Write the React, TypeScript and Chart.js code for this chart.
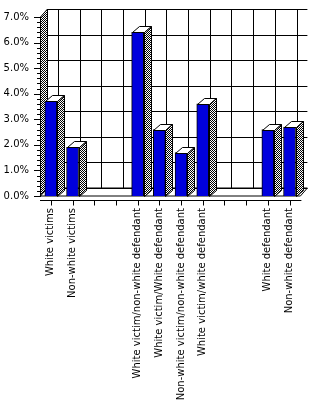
import React, { useEffect, useRef } from "react";
import { Chart, registerables } from "chart.js";

Chart.register(...registerables);

const categories: string[] = [
  "White victims",
  "Non-white victims",
  "",
  "",
  "White victim/non-white defendant",
  "White victim/White defendant",
  "Non-white victim/non-white defendant",
  "White victim/white defendant",
  "",
  "",
  "White defendant",
  "Non-white defendant",
];

const values: (number | null)[] = [3.7, 1.9, null, null, 6.4, 2.6, 1.7, 3.6, null, null, 2.6, 2.7];

const yTicks: number[] = [0, 1, 2, 3, 4, 5, 6, 7];

const FONT = "'DejaVu Sans', sans-serif";
const DX = 7;
const DY = 8;
const BDX = 7;
const BDY = 6;

function makeChecker(ctx: CanvasRenderingContext2D): CanvasPattern | string {
  const c = document.createElement("canvas");
  c.width = 2;
  c.height = 2;
  const g = c.getContext("2d");
  if (!g) return "#888";
  g.fillStyle = "#ffffff";
  g.fillRect(0, 0, 2, 2);
  g.fillStyle = "#000000";
  g.fillRect(0, 0, 1, 1);
  g.fillRect(1, 1, 1, 1);
  return ctx.createPattern(c, "repeat") || "#888";
}

const threeD = {
  id: "threeD",
  beforeDatasetsDraw(chart: any) {
    const ctx: CanvasRenderingContext2D = chart.ctx;
    const { left, right, top, bottom } = chart.chartArea;
    const xs = chart.scales.x;
    const ys = chart.scales.y;
    const pat = makeChecker(ctx);
    ctx.save();
    ctx.lineWidth = 1;
    ctx.strokeStyle = "#000";
    // floor
    ctx.fillStyle = "#fff";
    ctx.beginPath();
    ctx.moveTo(left, bottom);
    ctx.lineTo(left + DX, bottom - DY);
    ctx.lineTo(right + DX, bottom - DY);
    ctx.lineTo(right, bottom);
    ctx.closePath();
    ctx.fill();
    ctx.stroke();
    // back wall horizontal grid
    yTicks.forEach((v) => {
      const y = Math.round(ys.getPixelForValue(v) - DY) + 0.5;
      ctx.beginPath();
      ctx.moveTo(left + DX, y);
      ctx.lineTo(right + DX, y);
      ctx.stroke();
    });
    // back wall vertical grid
    const yTop = Math.round(ys.getPixelForValue(yTicks[yTicks.length - 1]) - DY) + 0.5;
    const yBot = Math.round(ys.getPixelForValue(0) - DY) + 0.5;
    categories.forEach((_, i) => {
      const x = Math.round(xs.getPixelForValue(i) + DX) + 0.5;
      ctx.beginPath();
      ctx.moveTo(x, yTop);
      ctx.lineTo(x, yBot);
      ctx.stroke();
    });
    // left back wall border
    ctx.beginPath();
    ctx.moveTo(left + DX + 0.5, yTop);
    ctx.lineTo(left + DX + 0.5, yBot);
    ctx.stroke();
    // left wall
    ctx.fillStyle = pat as any;
    ctx.beginPath();
    ctx.moveTo(left + 0.5, bottom);
    ctx.lineTo(left + 0.5, top);
    ctx.lineTo(left + DX + 0.5, top - DY);
    ctx.lineTo(left + DX + 0.5, bottom - DY);
    ctx.closePath();
    ctx.fill();
    ctx.stroke();
    // minor y ticks
    for (let v = 0; v <= 7.0001; v += 0.2) {
      const y = Math.round(ys.getPixelForValue(v)) + 0.5;
      const major = Math.abs(v - Math.round(v)) < 0.01;
      ctx.beginPath();
      ctx.moveTo(left - (major ? 6 : 3), y);
      ctx.lineTo(left, y);
      ctx.stroke();
    }
    // y axis line
    ctx.beginPath();
    ctx.moveTo(left + 0.5, top);
    ctx.lineTo(left + 0.5, bottom + 1);
    ctx.stroke();
    // x axis line with ticks
    const ax = Math.round(bottom + 4) + 0.5;
    ctx.beginPath();
    ctx.moveTo(left, ax);
    ctx.lineTo(right + 1, ax);
    ctx.stroke();
    categories.forEach((_, i) => {
      const x = Math.round(xs.getPixelForValue(i)) + 0.5;
      ctx.beginPath();
      ctx.moveTo(x, ax);
      ctx.lineTo(x, ax + 5);
      ctx.stroke();
    });
    ctx.restore();
  },
  afterDatasetsDraw(chart: any) {
    const ctx: CanvasRenderingContext2D = chart.ctx;
    const pat = makeChecker(ctx);
    const meta = chart.getDatasetMeta(0);
    ctx.save();
    ctx.lineWidth = 1;
    ctx.strokeStyle = "#000";
    meta.data.forEach((bar: any, i: number) => {
      if (values[i] == null) return;
      const { x, y, base, width } = bar.getProps(["x", "y", "base", "width"], true);
      const l = Math.round(x - width / 2) + 0.5;
      const r = Math.round(x + width / 2) + 0.5;
      const t = Math.round(y) + 0.5;
      const b = Math.round(base) + 0.5;
      // top face
      ctx.fillStyle = "#fff";
      ctx.beginPath();
      ctx.moveTo(l, t);
      ctx.lineTo(l + BDX, t - BDY);
      ctx.lineTo(r + BDX, t - BDY);
      ctx.lineTo(r, t);
      ctx.closePath();
      ctx.fill();
      ctx.stroke();
      // side face
      ctx.fillStyle = pat as any;
      ctx.beginPath();
      ctx.moveTo(r, t);
      ctx.lineTo(r + BDX, t - BDY);
      ctx.lineTo(r + BDX, b - BDY);
      ctx.lineTo(r, b);
      ctx.closePath();
      ctx.fill();
      ctx.stroke();
    });
    ctx.restore();
  },
};

export default function App() {
  const ref = useRef<HTMLCanvasElement | null>(null);
  useEffect(() => {
    document.body.style.margin = "0";
    if (!ref.current) return;
    const chart = new Chart(ref.current, {
      type: "bar",
      data: {
        labels: categories,
        datasets: [
          {
            data: values as any,
            backgroundColor: "#0000dd",
            borderColor: "#000",
            borderWidth: 1,
            barThickness: 12,
          },
        ],
      },
      options: {
        responsive: false,
        animation: false,
        events: [],
        layout: { padding: { top: 13, right: 11, left: 0, bottom: 0 } },
        plugins: { legend: { display: false }, tooltip: { enabled: false } },
        scales: {
          x: {
            grid: { display: false, drawTicks: false },
            border: { display: false },
            ticks: {
              autoSkip: false,
              minRotation: 90,
              maxRotation: 90,
              padding: 12,
              color: "#000",
              font: { family: FONT, size: 10 },
            },
            afterFit(scale: any) {
              scale.height = 206;
            },
          },
          y: {
            min: 0,
            max: 7,
            grid: { display: false, drawTicks: false },
            border: { display: false },
            ticks: {
              stepSize: 1,
              padding: 11,
              color: "#000",
              font: { family: FONT, size: 10 },
              callback: (v: any) => Number(v).toFixed(1) + "%",
            },
            afterFit(scale: any) {
              scale.width = 40;
            },
          },
        },
      },
      plugins: [threeD],
    });
    return () => chart.destroy();
  }, []);
  return <canvas ref={ref} width={314} height={402} style={{ display: "block" }} />;
}
